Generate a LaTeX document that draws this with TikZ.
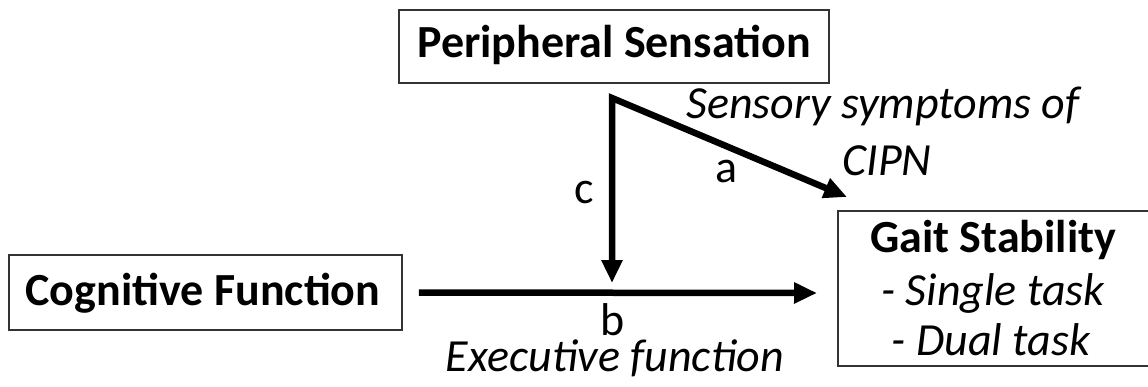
\documentclass[tikz,border=0pt]{standalone}
\usepackage{fontspec}
\setmainfont{Carlito}
\usetikzlibrary{arrows.meta}
\tikzset{
  box/.style={draw=black!80, line width=1.5pt, inner sep=0pt, minimum width=#1},
  boxtxt/.style={font=\fontsize{46}{52}\selectfont\bfseries, anchor=base, inner sep=0pt},
  lbl/.style={font=\fontsize{46}{52}\selectfont, anchor=base, inner sep=0pt},
  ilbl/.style={font=\fontsize{46}{52}\selectfont\itshape, anchor=base, inner sep=0pt},
  tip/.tip={Triangle[length=23pt,width=20pt]},
  conn/.style={line width=6.5pt, line join=miter}
}
\begin{document}
\begin{tikzpicture}[x=1pt,y=-1pt]
\useasboundingbox (0,0) rectangle (1148,386);
% boxes
\node[box=430pt, minimum height=73pt] (periph) at (614,46.5) {};
\node[box=393pt, minimum height=75pt] (cog) at (205.5,292.5) {};
\node[box=330pt, minimum height=155pt] (gait) at (1003,288.5) {};
% box texts
\node[boxtxt] (ptxt) at (614,57) {Peripheral Sensation};
\node[boxtxt] (ctxt) at (203,305) {Cognitive Function};
\node[boxtxt] (gtxt) at (993,252) {Gait Stability};
\node[ilbl] (g1) at (993,305) {- Single task};
\node[ilbl] (g2) at (991,355) {- Dual task};
% coordinates
\coordinate (corner) at (612,98);
\coordinate (atip) at (847,197);
\coordinate (cend) at (612,283);
\coordinate (bstart) at ([xshift=16pt]cog.east);
\coordinate (bend) at (817,293);
% connectors
\draw[conn, tip-tip] (cend) -- (corner) -- (atip);
\draw[conn, -tip] (bstart) -- (bend);
% labels
\node[lbl] (lc) at (584,203) {c};
\node[lbl] (la) at (727,182) {a};
\node[lbl] (lb) at (613,335) {b};
\node[ilbl, text height=30pt] (exec) at (615,371) {Executive function};
\node[ilbl] (sens) at (883,118) {Sensory symptoms of};
\node[ilbl] (cipn) at (887,175) {CIPN};
\end{tikzpicture}
\end{document}
